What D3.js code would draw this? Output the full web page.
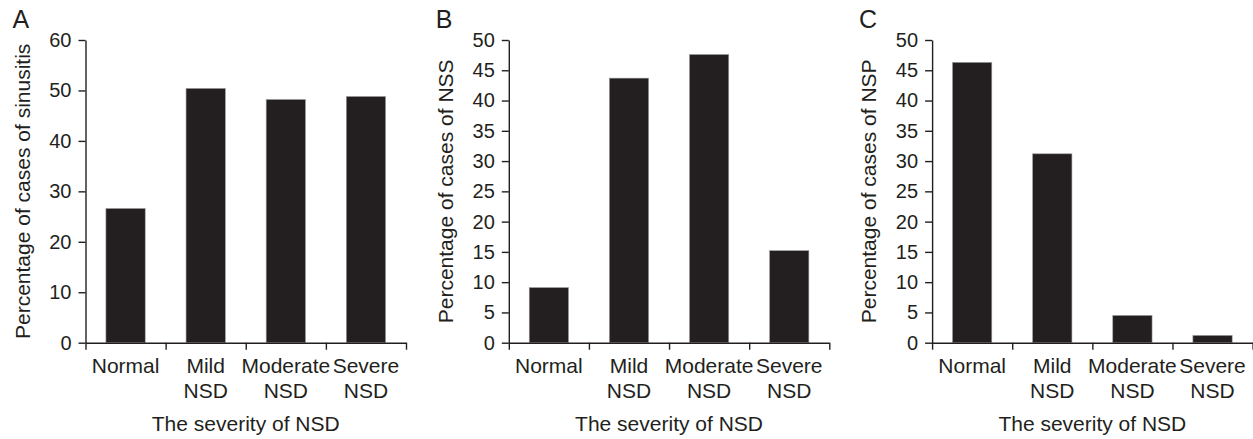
<!DOCTYPE html>
<html>
<head>
<meta charset="utf-8">
<script src="https://cdn.jsdelivr.net/npm/d3@7"></script>
<style>
  body { margin: 0; background: #fff; }
  svg { display: block; font-family: "Liberation Sans", Arial, sans-serif; }
</style>
</head>
<body>
<svg id="chart" width="1253" height="439"></svg>
<script>
// data
var categories = ["Normal", "Mild\nNSD", "Moderate\nNSD", "Severe\nNSD"];
var sinusitisValues = [26.6, 50.4, 48.2, 48.8];
var nssValues = [9.1, 43.7, 47.6, 15.2];
var nspValues = [46.3, 31.2, 4.5, 1.2];
var ticksA = [0, 10, 20, 30, 40, 50, 60];
var ticksBC = [0, 5, 10, 15, 20, 25, 30, 35, 40, 45, 50];
var panelLetters = ["A", "B", "C"];
var yTitles = ["Percentage of cases of sinusitis", "Percentage of cases of NSS", "Percentage of cases of NSP"];
var xTitle = "The severity of NSD";

var ink = "#231f20";
var svg = d3.select("#chart");

var panels = [
  { vals: sinusitisValues, ticks: ticksA },
  { vals: nssValues, ticks: ticksBC },
  { vals: nspValues, ticks: ticksBC }
];

var plotTop = 40, plotBottom = 342.7, plotW = 320.5;

panels.forEach(function (p, i) {
  var left = 85.5 + i * 423.3;
  var g = svg.append("g").attr("transform", "translate(" + left + ",0)");

  var y = d3.scaleLinear()
    .domain([0, d3.max(p.ticks)])
    .range([plotBottom, plotTop]);

  var x = d3.scaleBand()
    .domain(categories)
    .range([0, plotW])
    .padding(0);

  // boundary ticks on x axis
  var xEdge = d3.scaleLinear().domain([0, categories.length]).range([0, plotW]);

  //柱子
  g.selectAll("rect.bar")
    .data(p.vals)
    .enter()
    .append("rect")
    .attr("class", "bar")
    .attr("x", function (d, k) { return x(categories[k]) + x.bandwidth() * 0.255; })
    .attr("width", x.bandwidth() * 0.49)
    .attr("y", function (d) { return y(d); })
    .attr("height", function (d) { return y(0) - y(d); })
    .style("fill", ink)
    .style("stroke", "#9a9a9a")
    .style("stroke-width", 0.6);

  //y轴
  var yAxis = g.append("g")
    .call(d3.axisLeft(y).tickValues(p.ticks).tickSize(7).tickSizeOuter(0).tickPadding(7));
  yAxis.selectAll("path, line").attr("stroke", ink).attr("stroke-width", 1.4);
  yAxis.selectAll("text")
    .attr("fill", ink)
    .style("font-size", "20px")
    .style("font-family", "Liberation Sans, Arial, sans-serif");

  //x轴
  var xAxis = g.append("g")
    .attr("transform", "translate(0," + plotBottom + ")")
    .call(d3.axisBottom(xEdge).tickValues(d3.range(categories.length + 1)).tickSize(7).tickSizeOuter(0).tickFormat(""));
  xAxis.selectAll("path, line").attr("stroke", ink).attr("stroke-width", 1.4);

  //x轴文字（两行）
  var labels = g.append("g")
    .selectAll("text")
    .data(categories)
    .enter()
    .append("text")
    .attr("text-anchor", "middle")
    .style("font-size", "21px")
    .style("fill", ink)
    .attr("x", function (d) { return x(d) + x.bandwidth() / 2; })
    .attr("y", 373);
  labels.each(function (d) {
    var parts = d.split("\n");
    var self = d3.select(this);
    parts.forEach(function (t, j) {
      self.append("tspan")
        .attr("x", x(d) + x.bandwidth() / 2)
        .attr("dy", j === 0 ? 0 : 24.5)
        .text(t);
    });
  });

  //x轴标题
  g.append("text")
    .attr("text-anchor", "middle")
    .attr("x", plotW / 2)
    .attr("y", 431)
    .style("font-size", "21px")
    .style("fill", ink)
    .text(xTitle);

  //y轴标题
  g.append("text")
    .attr("text-anchor", "middle")
    .attr("transform", "translate(-56," + ((plotTop + plotBottom) / 2) + ") rotate(-90)")
    .style("font-size", "21px")
    .style("fill", ink)
    .text(yTitles[i]);

  //面板字母
  g.append("text")
    .attr("x", -73)
    .attr("y", 28)
    .style("font-size", "25px")
    .style("fill", ink)
    .text(panelLetters[i]);
});
</script>
</body>
</html>
